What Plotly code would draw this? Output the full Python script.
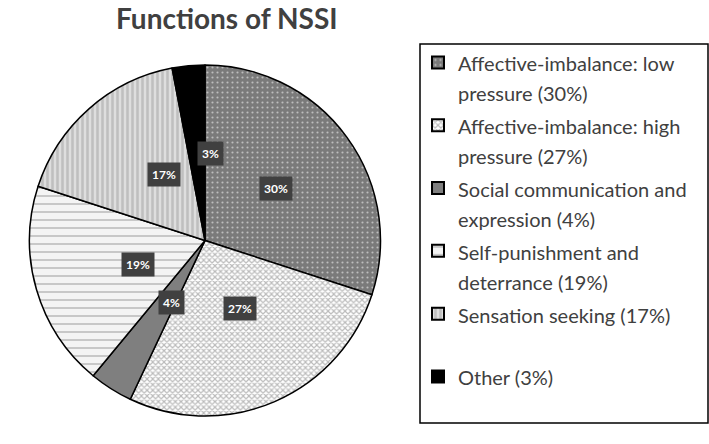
import math
import plotly.graph_objects as go

categories = [
    "Affective-imbalance: low<br>pressure (30%)",
    "Affective-imbalance: high<br>pressure (27%)",
    "Social communication and<br>expression (4%)",
    "Self-punishment and<br>deterrance (19%)",
    "Sensation seeking (17%)<br> ",
    "Other (3%)<br> ",
]
values = [30, 27, 4, 19, 17, 3]
pct_labels = ["30%", "27%", "4%", "19%", "17%", "3%"]

W, H = 709, 444
# pie geometry (pixels)
cx, cy, R = 205, 240.5, 175.5

bg = ["#7a7a7a", "#ffffff", "#7f7f7f", "#f4f4f4", "#dedede", "#000000"]
fg = ["#ffffff", "#777777", "#7f7f7f", "#3a3a3a", "#a0a0a0", "#000000"]
shapes_p = [".", "x", "", "-", "|", ""]
sizes = [5, 4, 8, 8, 5, 8]
solid = [0.15, 0.5, 0.3, 0.12, 0.5, 0.3]

legend_labels = ["<span style='font-size:20px'>%s</span>"
                 % c.replace("<br>", "</span><br><span style='font-size:20px'>")
                 for c in categories]

fig = go.Figure(go.Pie(
    labels=legend_labels,
    values=values,
    sort=False,
    direction="clockwise",
    rotation=0,
    textinfo="none",
    hoverinfo="percent",
    marker=dict(
        colors=bg,
        line=dict(color="#000000", width=1.5),
        pattern=dict(shape=shapes_p, fgcolor=fg, bgcolor=bg, size=sizes,
                     solidity=solid, fillmode="overlay"),
    ),
    domain=dict(x=[(cx - R) / W, (cx + R) / W],
                y=[1 - (cy + R) / H, 1 - (cy - R) / H]),
))

# label boxes at mid-angles, computed from the values
total = sum(values)
cum = 0
annotations = []
for v, lab in zip(values, pct_labels):
    mid = (cum + v / 2) / total * 2 * math.pi
    cum += v
    px = cx + 0.5 * R * math.sin(mid)
    py = cy - 0.5 * R * math.cos(mid)
    annotations.append(dict(
        x=px / W, y=1 - py / H, xref="paper", yref="paper",
        text="<b>%s</b>" % lab, showarrow=False,
        font=dict(family="Lato, Open Sans, sans-serif", size=12, color="#ffffff"),
        bgcolor="#404040", borderpad=4,
    ))

annotations.append(dict(
    x=226.5 / W, y=1, xref="paper", yref="paper",
    text="<b>Functions of NSSI</b>", showarrow=False,
    font=dict(family="Lato, Open Sans, sans-serif", size=28, color="#404040"),
    xanchor="center", yanchor="top", borderpad=0,
))

fig.update_layout(
    width=W, height=H,
    margin=dict(l=0, r=0, t=0, b=0),
    paper_bgcolor="#ffffff",
    plot_bgcolor="#ffffff",
    annotations=annotations,
    showlegend=True,
    legend=dict(
        x=418 / W, y=1 - 41 / H, xanchor="left", yanchor="top",
        font=dict(family="Lato, Open Sans, sans-serif", size=23, color="#404040"),
        valign="top", tracegroupgap=0, itemsizing="constant",
        bgcolor="rgba(0,0,0,0)", borderwidth=0,
    ),
    shapes=[dict(type="rect", xref="paper", yref="paper",
                 x0=420 / W, x1=708 / W, y0=1 - 423 / H, y1=1 - 44 / H,
                 line=dict(color="#000000", width=1.5))],
)

fig.write_html("out.html", config={"displayModeBar": False},
               post_script="document.body.style.margin='0';")
